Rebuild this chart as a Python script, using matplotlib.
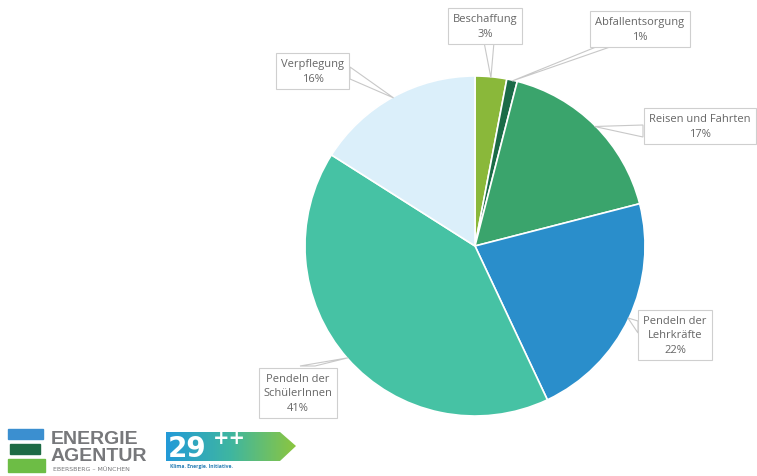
import matplotlib.pyplot as plt
import numpy as np
from matplotlib.patches import Polygon, Rectangle
from matplotlib.colors import LinearSegmentedColormap

plt.rcParams['font.family'] = ['Open Sans', 'DejaVu Sans']

labels = ["Beschaffung", "Abfallentsorgung", "Reisen und Fahrten",
          "Pendeln der\nLehrkräfte", "Pendeln der\nSchülerInnen", "Verpflegung"]
values = [3, 1, 17, 22, 41, 16]
colors = ["#8ab83a", "#1b6b47", "#3aa46c", "#2a8ecb", "#46c2a4", "#dbeffa"]

W, H = 757, 477
fig = plt.figure(figsize=(W / 100, H / 100), dpi=100)
ax = fig.add_axes([0, 0, 1, 1])

def Y(y):
    # pixel row (from top) -> data y
    return H - y

cx, cy, R = 475, 247, 170
wedges, _ = ax.pie(values, colors=colors, startangle=90, counterclock=False,
                   center=(cx, Y(cy)), radius=R,
                   wedgeprops=dict(edgecolor="white", linewidth=1.2))

# label box centres and pointer bases (pixel coords, y from top)
box_pos = [(485, 27), (640, 30), (700, 127), (675, 336), (298, 394), (313, 72)]
bases = [((484, 43), (494, 43)), ((596, 48), (610, 48)), ((643, 126), (643, 138)),
         ((638, 322), (638, 334)), ((300, 367), (315, 367)), ((350, 68), (350, 80))]

for w, lab, v, (bx, by), (b1, b2) in zip(wedges, labels, values, box_pos, bases):
    ang = np.deg2rad((w.theta1 + w.theta2) / 2)
    tx = cx + (R - 1) * np.cos(ang)
    ty = Y(cy) + (R - 1) * np.sin(ang)
    tri = Polygon([(b1[0], Y(b1[1])), (tx, ty), (b2[0], Y(b2[1]))], closed=True,
                  facecolor="white", edgecolor="#c8c8c8", linewidth=0.8, zorder=3)
    ax.add_patch(tri)
    ax.text(bx, Y(by), f"{lab}\n{v}%", ha="center", va="center", fontsize=8,
            color="#666666", linespacing=1.45, zorder=4,
            bbox=dict(boxstyle="square,pad=0.45", facecolor="white",
                      edgecolor="#cfcfcf", linewidth=0.8))

# Energieagentur logo
ax.add_patch(Rectangle((8, Y(440)), 35, 10, color="#3b8fd0", zorder=5))
ax.add_patch(Rectangle((10, Y(455)), 30, 10, color="#1d6b45", zorder=5))
ax.add_patch(Rectangle((8, Y(473)), 37, 13, color="#6dbd45", zorder=5))
ax.text(51, Y(440), "ENERGIE", fontsize=14, fontweight="bold", color="#77787b",
        va="center", ha="left", family="Liberation Sans", zorder=5)
ax.text(51, Y(457), "AGENTUR", fontsize=14, fontweight="bold", color="#77787b",
        va="center", ha="left", family="Liberation Sans", zorder=5)
ax.text(53, Y(470), "EBERSBERG – MÜNCHEN", fontsize=4.5, color="#77787b",
        va="center", ha="left", family="DejaVu Sans", zorder=5)

# 29++ logo with gradient arrow
arrow = Polygon([(166, Y(433)), (280, Y(433)), (296, Y(447)), (280, Y(462)), (166, Y(462))],
                closed=True, facecolor="none", edgecolor="none")
ax.add_patch(arrow)
grad = np.linspace(0, 1, 256).reshape(1, -1)
cm = LinearSegmentedColormap.from_list("g", ["#239ad8", "#3fb6a0", "#8cc63f"])
im = ax.imshow(grad, cmap=cm, extent=(166, 296, Y(462), Y(433)), aspect="auto", zorder=5)
im.set_clip_path(arrow)
ax.text(168, Y(449), "29", fontsize=20, fontweight="bold", color="white",
        va="center", ha="left", family="DejaVu Sans", zorder=6)
ax.text(213, Y(439), "++", fontsize=14, fontweight="bold", color="white",
        va="center", ha="left", family="DejaVu Sans", zorder=6)
ax.text(170, Y(467), "Klima. Energie. Initiative.", fontsize=3.6, fontweight="bold",
        color="#2a7fb5", va="center", ha="left", zorder=6)

ax.set_xlim(0, W)
ax.set_ylim(0, H)
ax.set_aspect("equal")
ax.axis("off")

fig.savefig("out.png", dpi=100)
